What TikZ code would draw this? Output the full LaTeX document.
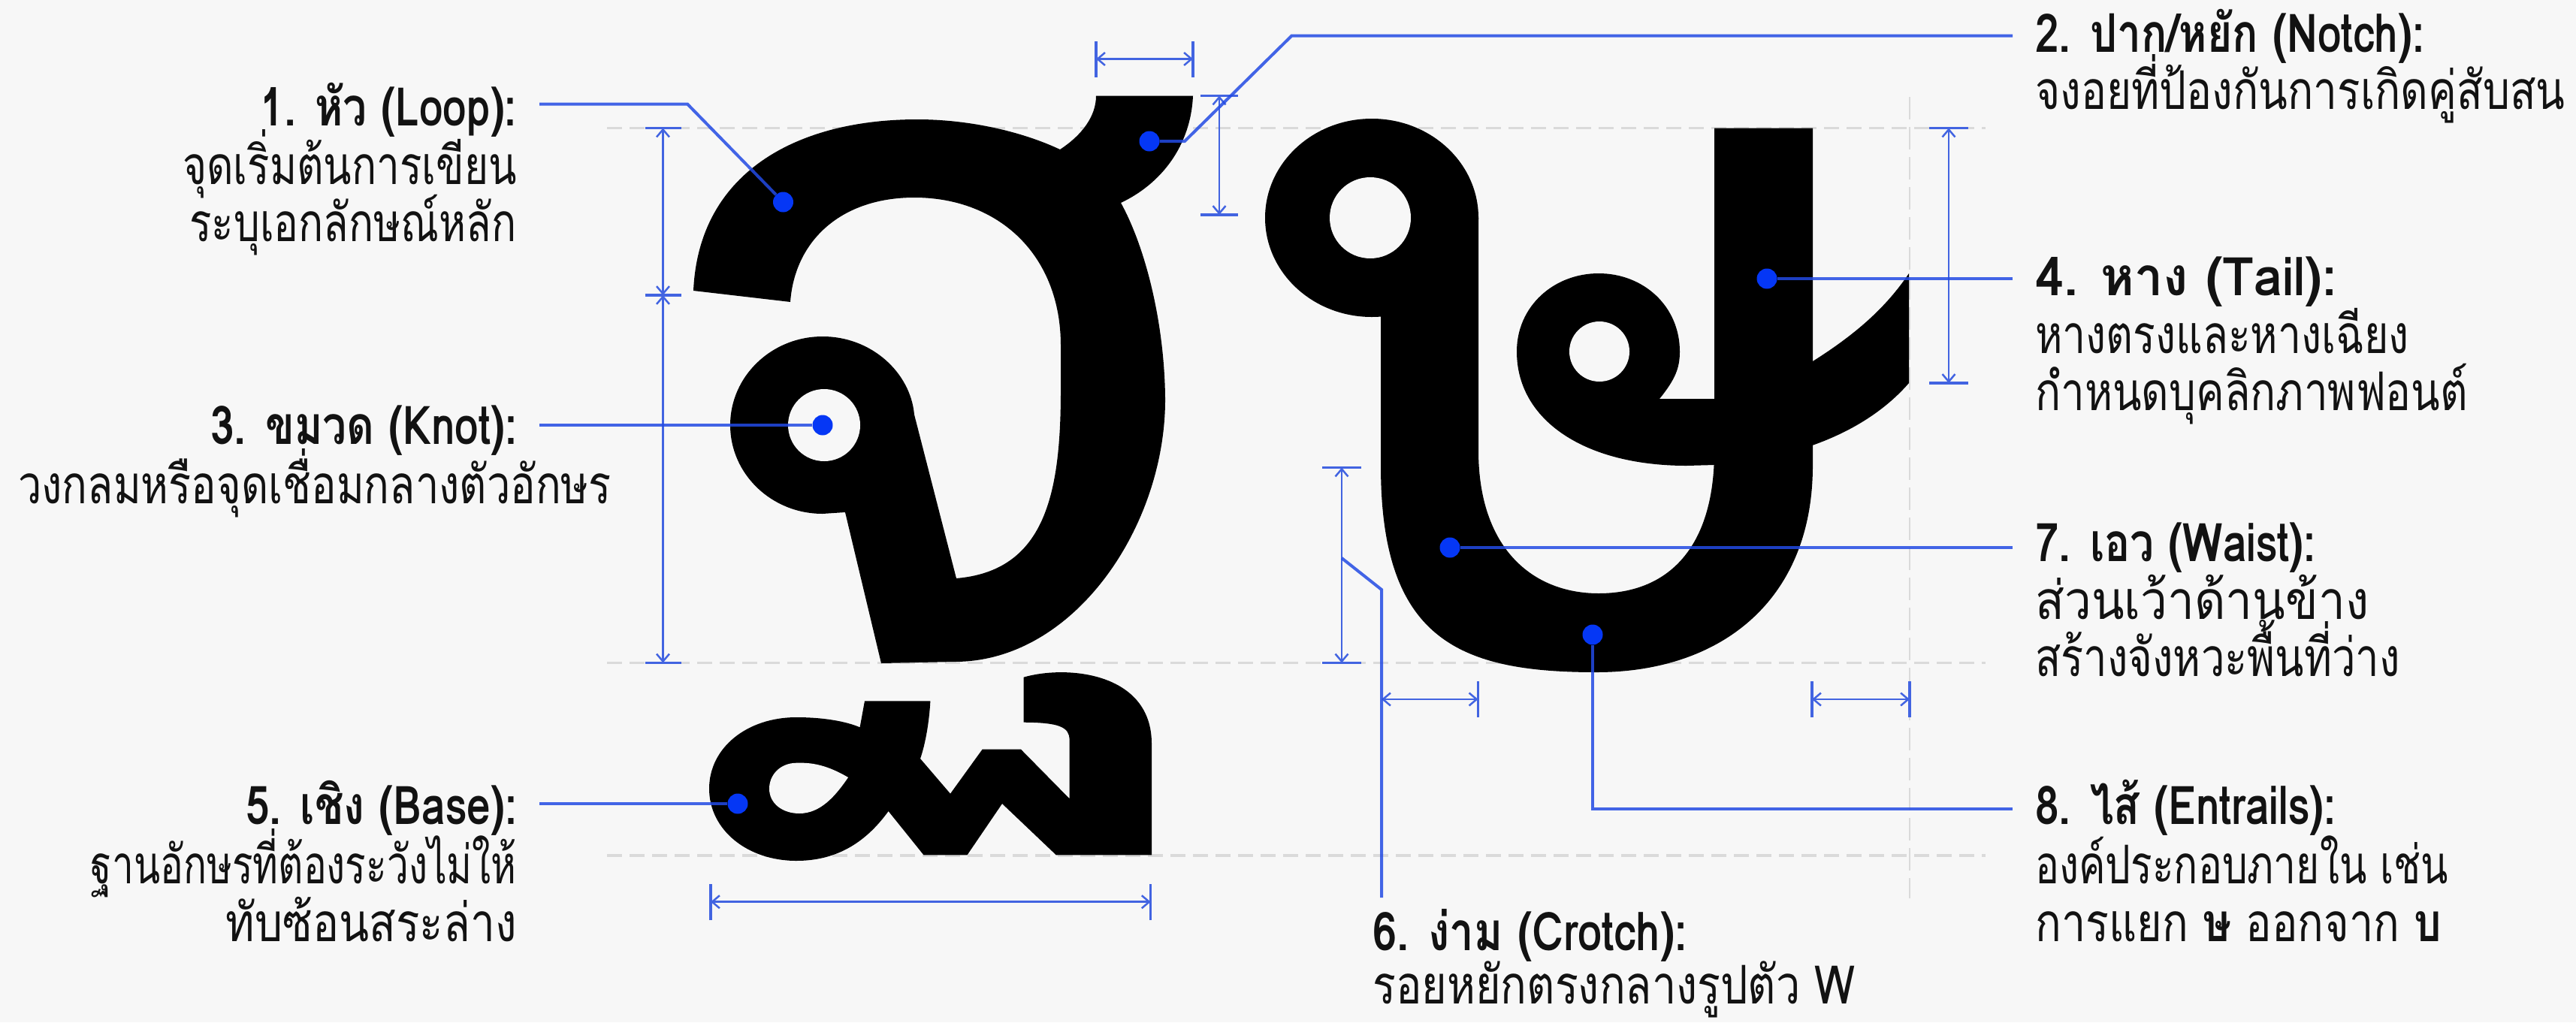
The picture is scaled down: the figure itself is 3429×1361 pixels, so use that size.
\documentclass[tikz,border=0pt]{standalone}
\usepackage{fontspec}
\usetikzlibrary{arrows.meta}
\newfontfamily\thai[Script=Thai,FakeStretch=0.75]{Loma}
\newfontfamily\thaib[Script=Thai,FakeStretch=0.80]{Loma}
\definecolor{bgc}{RGB}{247,247,247}
\definecolor{guidegray}{RGB}{218,218,218}
\definecolor{dimblue}{RGB}{66,100,225}
\definecolor{leadblue}{RGB}{35,75,228}
\definecolor{dotblue}{RGB}{5,55,245}
\definecolor{inkc}{RGB}{18,18,18}
\newcommand{\xs}[2]{\scalebox{#1}[1]{#2}}
\tikzset{
  glyph/.style={fill=black},
  hole/.style={fill=bgc},
  guide/.style={draw=guidegray, line width=3.5pt, dash pattern=on 20pt off 10pt},
  vguide/.style={draw=guidegray, line width=2pt, dash pattern=on 30pt off 10pt},
  dimline/.style={draw=dimblue, line width=2.5pt,
     {Straight Barb[length=10pt,width=17pt,line width=2.5pt]}-{Straight Barb[length=10pt,width=17pt,line width=2.5pt]}},
  tickmark/.style={draw=dimblue, line width=3.5pt},
  leader/.style={draw=leadblue, line width=4pt, draw opacity=0.85, line join=miter},
  dotmark/.style={circle, fill=dotblue, inner sep=0pt, minimum size=27pt},
  ttl/.style={font=\thaib\bfseries\fontsize{71}{80}\selectfont, inner sep=0pt, text=inkc},
  bdy/.style={font=\thai\fontsize{71}{80}\selectfont, inner sep=0pt, text=inkc},
}
\begin{document}
\begin{tikzpicture}[x=1pt,y=-1pt]
\useasboundingbox (0,0) rectangle (3429,1361);
\fill[bgc] (0,0) rectangle (3429,1361);

% guides
\coordinate (g1a) at (808,170.5); \coordinate (g1b) at (2643,170.5);
\coordinate (g2a) at (808,882.5); \coordinate (g2b) at (2643,882.5);
\coordinate (g3a) at (808,1139); \coordinate (g3b) at (2643,1139);
\coordinate (g4a) at (2542,129); \coordinate (g4b) at (2542,1196);
\draw[guide] (g1a) -- (g1b);
\draw[guide] (g2a) -- (g2b);
\draw[guide] (g3a) -- (g3b);
\draw[vguide] (g4a) -- (g4b);

% ---- glyph tho than (upper)
\fill[glyph] (923,387)
 .. controls (930,230) and (1060,159) .. (1221,159)
 .. controls (1290,159) and (1360,175) .. (1411,199)
 .. controls (1440,180) and (1459,155) .. (1459,127.5)
 -- (1588,127.5)
 .. controls (1585,195) and (1545,245) .. (1492,270)
 .. controls (1525,330) and (1550,430) .. (1551,530)
 .. controls (1552,700) and (1430,881) .. (1271,881)
 -- (1173,883) -- (1125,682) -- (1095,684)
 .. controls (1027,684) and (972,631) .. (972,566)
 .. controls (972,501) and (1027,448) .. (1095,448)
 .. controls (1160,448) and (1212,496) .. (1217,552)
 -- (1273,770)
 .. controls (1390,760) and (1412,660) .. (1412,520)
 -- (1412,460)
 .. controls (1412,340) and (1330,263) .. (1217,263)
 .. controls (1120,263) and (1058,320) .. (1052,402)
 -- cycle;
\fill[hole] (1097,566) circle[radius=48];

% ---- glyph tho than (foot)
\fill[glyph] (1151,933.3) -- (1238.4,933.3)
 .. controls (1237,960) and (1232,990) .. (1225,1010)
 -- (1265,1056.7) -- (1307.6,997.7) -- (1359,997.7) -- (1423.6,1063.3) -- (1423.6,985)
 .. controls (1423.6,968) and (1410,962) .. (1362.5,961.7)
 -- (1362.5,901.7)
 .. controls (1420,885) and (1533,895) .. (1533,990)
 -- (1533,1138.3) -- (1405.8,1138.3) -- (1334,1070) -- (1287.5,1138.3) -- (1229.5,1138.3) -- (1182.6,1080)
 .. controls (1150,1125) and (1110,1146) .. (1060,1146)
 .. controls (995,1146) and (944,1105) .. (944,1050)
 .. controls (944,995) and (995,955) .. (1060,955)
 .. controls (1095,955) and (1125,960) .. (1144.6,968.3)
 -- cycle;
\fill[hole] (1129,1035)
 .. controls (1100,1018) and (1080,1015) .. (1060,1015.7)
 .. controls (1038,1016) and (1024,1032) .. (1024,1050)
 .. controls (1024,1070) and (1042,1083) .. (1064,1083)
 .. controls (1092,1083) and (1112,1060) .. (1129,1035) -- cycle;

% ---- glyph so rusi
\fill[glyph] (1826,290) ellipse[x radius=142, y radius=132];
\fill[glyph] (1838,290) -- (1838,620)
 .. controls (1838,850) and (1940,895) .. (2125,895)
 .. controls (2290,895) and (2413,800) .. (2413,620)
 -- (2413,170.5) -- (2282,170.5) -- (2282,600)
 .. controls (2282,730) and (2220,790) .. (2128,790)
 .. controls (2040,790) and (1968,730) .. (1968,600)
 -- (1968,290) -- cycle;
\fill[hole] (1824,290) circle[radius=54];
\fill[glyph] (2209,531)
 .. controls (2230,505) and (2236,490) .. (2236,468)
 .. controls (2236,408) and (2188,364) .. (2128,364)
 .. controls (2068,364) and (2019,408) .. (2019,468)
 .. controls (2019,560) and (2110,620) .. (2245,620)
 -- (2282,619)
 .. controls (2380,612) and (2480,580) .. (2541,510)
 -- (2541,364)
 .. controls (2510,410) and (2470,445) .. (2413,481)
 -- (2282,531) -- cycle;
\fill[hole] (2129,468) circle[radius=40];

% ---- dimension lines
\coordinate (v1a) at (882.5,170.5); \coordinate (v1b) at (882.5,393); \coordinate (v1c) at (882.5,882.5);
\draw[dimline] (v1a) -- (v1b);
\draw[dimline] (v1b) -- (v1c);
\foreach \p in {v1a,v1b,v1c} \draw[tickmark] ([xshift=-24pt]\p) -- ([xshift=24pt]\p);

\coordinate (h1a) at (1459,78.5); \coordinate (h1b) at (1588,78.5);
\draw[dimline] (h1a) -- (h1b);
\foreach \p in {h1a,h1b} \draw[tickmark] ([yshift=-24pt]\p) -- ([yshift=24pt]\p);

\coordinate (v2a) at (1623,127.5); \coordinate (v2b) at (1623,286);
\draw[dimline] (v2a) -- (v2b);
\foreach \p in {v2a,v2b} \draw[tickmark] ([xshift=-25pt]\p) -- ([xshift=25pt]\p);

\coordinate (v3a) at (2594,170.5); \coordinate (v3b) at (2594,510);
\draw[dimline] (v3a) -- (v3b);
\foreach \p in {v3a,v3b} \draw[tickmark] ([xshift=-26pt]\p) -- ([xshift=26pt]\p);

\coordinate (v4a) at (1786,622.5); \coordinate (v4b) at (1786,882.5);
\draw[dimline] (v4a) -- (v4b);
\foreach \p in {v4a,v4b} \draw[tickmark] ([xshift=-26pt]\p) -- ([xshift=26pt]\p);

\coordinate (h2a) at (1839,931); \coordinate (h2b) at (1967.5,931);
\draw[dimline] (h2a) -- (h2b);
\foreach \p in {h2b} \draw[tickmark] ([yshift=-24pt]\p) -- ([yshift=24pt]\p);

\coordinate (h3a) at (2412,931); \coordinate (h3b) at (2542,931);
\draw[dimline] (h3a) -- (h3b);
\foreach \p in {h3a,h3b} \draw[tickmark] ([yshift=-24pt]\p) -- ([yshift=24pt]\p);

\coordinate (h4a) at (946,1200.7); \coordinate (h4b) at (1531.7,1200.7);
\draw[dimline] (h4a) -- (h4b);
\foreach \p in {h4a,h4b} \draw[tickmark] ([yshift=-24pt]\p) -- ([yshift=24pt]\p);

% ---- dots
\node[dotmark] (d1) at (1042.5,269) {};
\node[dotmark] (d2) at (1530,188) {};
\node[dotmark] (d3) at (1095,566) {};
\node[dotmark] (d4) at (2352,371) {};
\node[dotmark] (d5) at (982,1070) {};
\node[dotmark] (d7) at (1930,729) {};
\node[dotmark] (d8) at (2120,845) {};

% ---- leaders
\coordinate (l1) at (718,138.5); \coordinate (b1) at (915,138.5);
\draw[leader] (l1) -- (b1) -- (d1);
\coordinate (l2) at (2679,47.5); \coordinate (b2a) at (1719.5,47.5); \coordinate (b2b) at (1577,188);
\draw[leader] (l2) -- (b2a) -- (b2b) -- (d2);
\coordinate (l3) at (718,566);
\draw[leader] (l3) -- (d3);
\coordinate (l4) at (2679,371);
\draw[leader] (l4) -- (d4);
\coordinate (l5) at (718,1070);
\draw[leader] (l5) -- (d5);
\coordinate (l6) at (1839,1195); \coordinate (b6) at (1839,785); \coordinate (e6) at (1786,743);
\draw[leader] (l6) -- (b6) -- (e6);
\coordinate (l7) at (2679,729);
\draw[leader] (l7) -- (d7);
\coordinate (l8) at (2679,1077); \coordinate (b8) at (2120,1077);
\draw[leader] (l8) -- (b8) -- (d8);

% ---- labels
\node[ttl, anchor=base east] (t1) at (688,167) {1. หัว (Loop):};
\node[bdy, anchor=base east] (t1a) at (688,245) {\xs{1.03}{จุดเริ่มต้นการเขียน}};
\node[bdy, anchor=base east] (t1b) at (688,321) {\xs{1.03}{ระบุเอกลักษณ์หลัก}};

\node[ttl, anchor=base east] (t3) at (688,591) {3. ขมวด (Knot):};
\node[bdy, anchor=base west] (t3a) at (24,670) {\xs{1.05}{วงกลมหรือจุดเชื่อมกลางตัวอักษร}};

\node[ttl, anchor=base east] (t5) at (688,1097) {5. เชิง (Base):};
\node[bdy, anchor=base east] (t5a) at (688,1176) {\xs{0.965}{ฐานอักษรที่ต้องระวังไม่ให้}};
\node[bdy, anchor=base east] (t5b) at (688,1253) {\xs{1.1}{ทับซ้อนสระล่าง}};

\node[ttl, anchor=base west] (t2) at (2709,69) {2. ปาก/หยัก (Notch):};
\node[bdy, anchor=base west] (t2a) at (2709,145) {\xs{1.065}{จงอยที่ป้องกันการเกิดคู่สับสน}};

\node[ttl, anchor=base west] (t4) at (2709,393) {\xs{1.2}{4. หาง (Tail):}};
\node[bdy, anchor=base west] (t4a) at (2709,470) {\xs{1.04}{หางตรงและหางเฉียง}};
\node[bdy, anchor=base west] (t4b) at (2709,546) {\xs{1.06}{กำหนดบุคลิกภาพฟอนต์}};

\node[ttl, anchor=base west] (t7) at (2709,747) {7. เอว (Waist):};
\node[bdy, anchor=base west] (t7a) at (2709,824) {\xs{1.2}{ส่วนเว้าด้านข้าง}};
\node[bdy, anchor=base west] (t7b) at (2709,900) {\xs{1.055}{สร้างจังหวะพื้นที่ว่าง}};

\node[ttl, anchor=base west] (t8) at (2709,1097) {8. ไส้ (Entrails):};
\node[bdy, anchor=base west] (t8a) at (2709,1176) {องค์ประกอบภายใน เช่น};
\node[bdy, anchor=base west] (t8b) at (2709,1253) {\xs{1.08}{การแยก {\bfseries ษ} ออกจาก {\bfseries บ}}};

\node[ttl, anchor=base west] (t6) at (1827,1265) {\xs{1.02}{6. ง่าม (Crotch):}};
\node[bdy, anchor=base west] (t6a) at (1827,1336) {\xs{1.08}{รอยหยักตรงกลางรูปตัว W}};
\end{tikzpicture}
\end{document}
